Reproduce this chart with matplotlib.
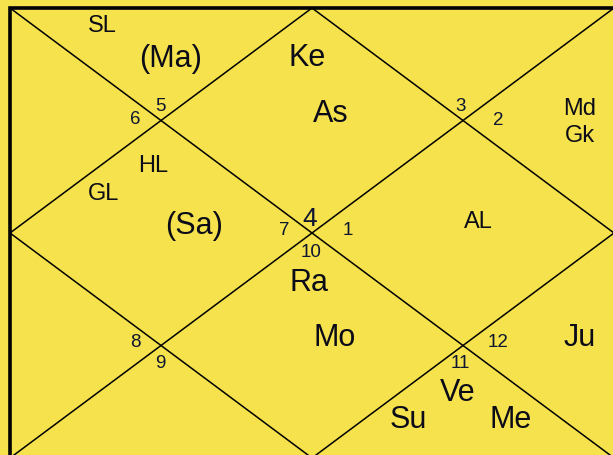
import matplotlib.pyplot as plt

plt.rcParams['font.family'] = ['Liberation Sans', 'DejaVu Sans']

# house numbers (sign numbers) shown at the inner corners of each house
house_signs = ['5', '6', '3', '2', '7', '4', '1', '10', '8', '9', '12', '11']
# planets / points placed in the houses
planets = ['SL', '(Ma)', 'Ke', 'As', 'Md', 'Gk', 'HL', 'GL', '(Sa)', 'AL',
           'Ra', 'Mo', 'Ju', 'Ve', 'Su', 'Me']

# layout (pixel space, y down)
sign_xy = [(160, 111), (135, 124), (461, 111), (498, 125), (284, 235), (310, 226),
           (348, 235), (311, 257), (135, 347), (160, 368), (498, 347), (460, 368)]
sign_size = [13.5] * 12
sign_size[5] = 19
planet_xy = [(102, 32), (171, 67), (307, 66), (331, 122), (580, 115), (580, 142),
             (153, 172), (104, 200), (194, 234), (478, 228),
             (309, 291), (335, 346), (580, 346), (458, 401), (408, 428), (511, 428)]
small = {'SL', 'Md', 'Gk', 'HL', 'GL', 'AL'}

# chart box runs past the right and bottom edges of the picture
x0, y0, x1, y1 = 10, 8, 614, 458
xm, ym = (x0 + x1) / 2, (y0 + y1) / 2
bg = '#F5E24C'

fig = plt.figure(figsize=(6.13, 4.55), dpi=100, facecolor=bg)
ax = fig.add_axes([0, 0, 1, 1])
ax.set_facecolor(bg)
ax.set_xlim(0, 613)
ax.set_ylim(455, 0)
ax.axis('off')

# diagonals
ax.plot([x0, x1], [y0, y1], color='black', lw=1.1)
ax.plot([x1, x0], [y0, y1], color='black', lw=1.1)
# inner diamond
ax.plot([xm, x1, xm, x0, xm], [y0, ym, y1, ym, y0], color='black', lw=1.1)
# outer frame
ax.plot([x0, x0, x1 + 5, x1 + 5, x0], [y1 + 5, y0, y0, y1 + 5, y1 + 5],
        color='black', lw=2.6, solid_joinstyle='miter')

for s, (x, y), fs in zip(house_signs, sign_xy, sign_size):
    ax.text(x, y, s, ha='center', va='baseline', fontsize=fs, color='#0e1530')

for p, (x, y) in zip(planets, planet_xy):
    fs = 17 if p in small else 22
    ax.text(x, y, p, ha='center', va='baseline', fontsize=fs, color='#0c0c18')

fig.savefig('out.png', dpi=100, facecolor=bg)
